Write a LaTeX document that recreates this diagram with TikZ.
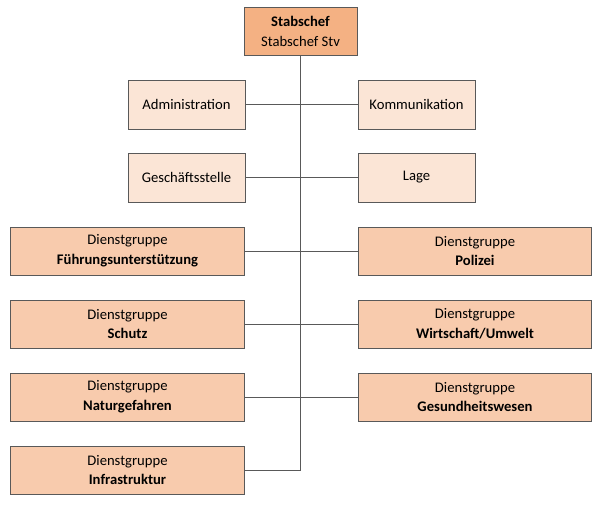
\documentclass[tikz,border=0pt]{standalone}
\usepackage{fontspec}
\setmainfont{Carlito}
\definecolor{chefbg}{HTML}{F4B183}
\definecolor{stabbg}{HTML}{FBE5D6}
\definecolor{dgbg}{HTML}{F8CBAD}
\definecolor{rahmen}{HTML}{595959}
\begin{document}
\begin{tikzpicture}[x=0.03cm, y=-0.03cm]
  \tikzstyle{kasten}=[draw=rahmen, line width=0.8pt, align=center, inner sep=0, font=\fontsize{12.5}{17}\selectfont];
  \tikzstyle{chef}=[kasten, fill=chefbg, minimum width=3.39cm, minimum height=1.44cm];
  \tikzstyle{stab}=[kasten, fill=stabbg, minimum width=3.51cm, minimum height=1.47cm];
  \tikzstyle{gruppe}=[kasten, fill=dgbg, minimum width=7cm, minimum height=1.44cm];
  \tikzstyle{linie}=[draw=rahmen, line width=0.8pt];

  \useasboundingbox (0,0) rectangle (600,504);

  \node[chef] (SC) at (300.5, 31) {\textbf{Stabschef}\\Stabschef Stv};

  \node[stab] (ADM) at (186.5, 104.5) {Administration};
  \node[stab] (KOM) at (416.5, 104.5) {Kommunikation};
  \node[stab] (GS) at (186.5, 177.5) {Geschäftsstelle};
  \node[stab] (LAG) at (416.5, 177.5) {Lage};

  \node[gruppe] (FU) at (127.5, 251) {Dienstgruppe\\\textbf{Führungsunterstützung}};
  \node[gruppe] (POL) at (475, 251) {Dienstgruppe\\\textbf{Polizei}};
  \node[gruppe] (SCH) at (127.5, 324) {Dienstgruppe\\\textbf{Schutz}};
  \node[gruppe] (WU) at (475, 324) {Dienstgruppe\\\textbf{Wirtschaft/Umwelt}};
  \node[gruppe] (NG) at (127.5, 397) {Dienstgruppe\\\textbf{Naturgefahren}};
  \node[gruppe] (GW) at (475, 397) {Dienstgruppe\\\textbf{Gesundheitswesen}};
  \node[gruppe] (IS) at (127.5, 470) {Dienstgruppe\\\textbf{Infrastruktur}};

  \coordinate (ende) at (SC.south |- IS.east);

  \draw[linie] (SC) -- (ende);
  \draw[linie] (ADM) -- (KOM);
  \draw[linie] (GS) -- (LAG);
  \draw[linie] (FU) -- (POL);
  \draw[linie] (SCH) -- (WU);
  \draw[linie] (NG) -- (GW);
  \draw[linie] (IS) -- (ende);
\end{tikzpicture}
\end{document}
